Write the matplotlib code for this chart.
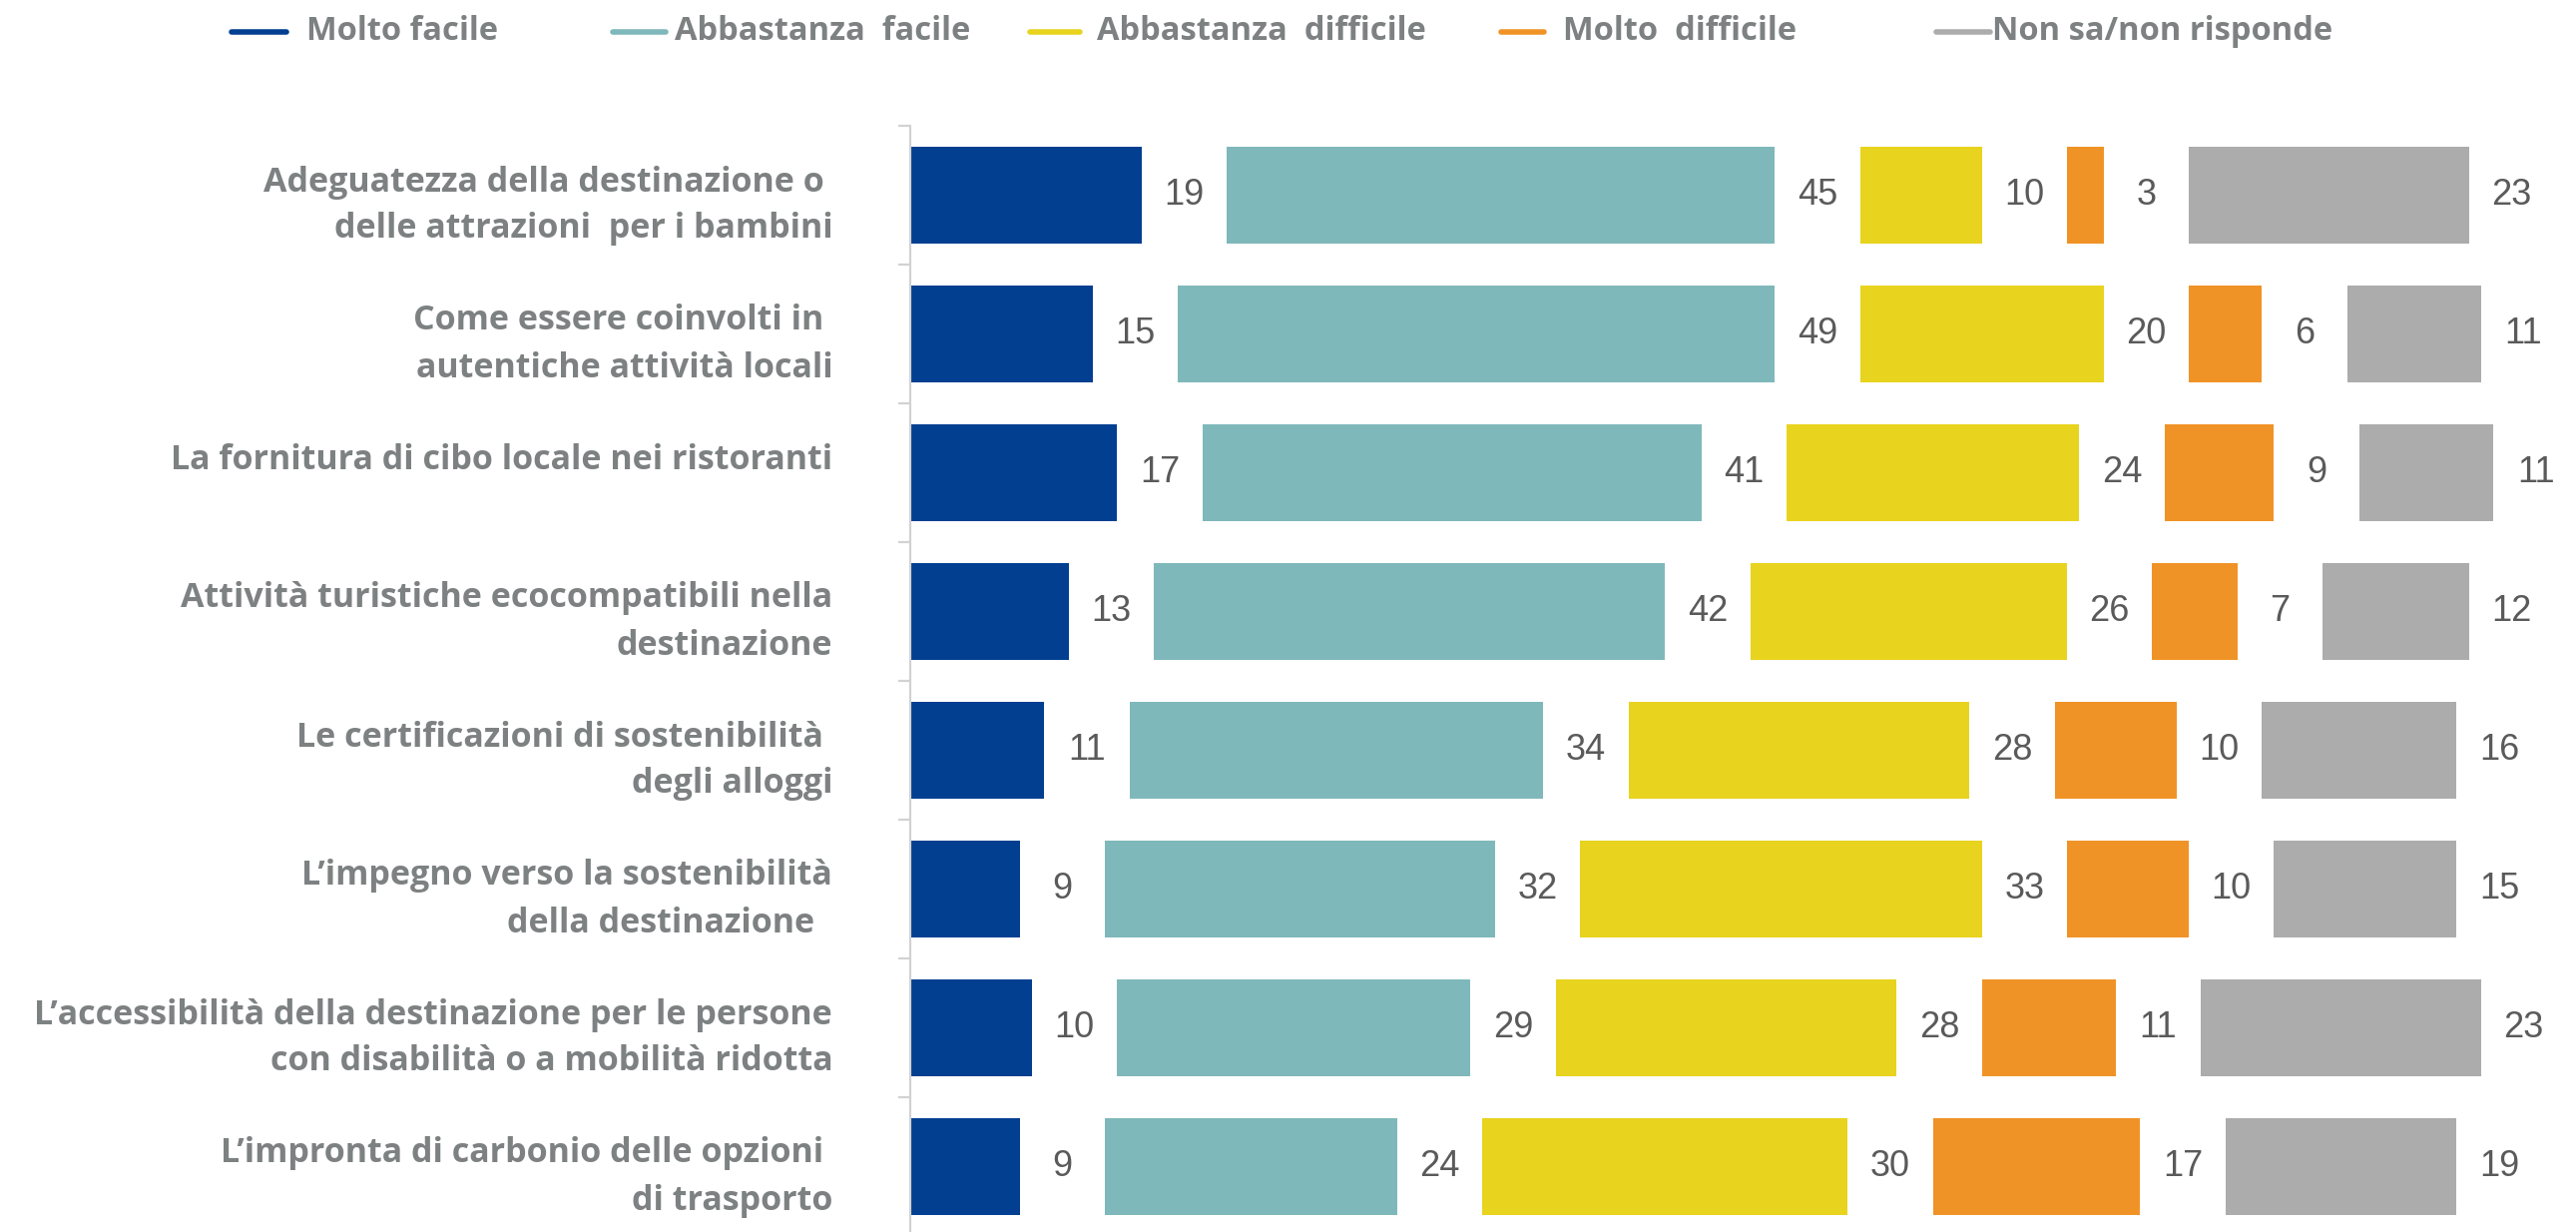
import matplotlib
matplotlib.use("Agg")
import matplotlib.pyplot as plt
from matplotlib.lines import Line2D
import numpy as np

# Survey answers per topic (percentages)
topics = [
    "Adeguatezza della destinazione o \ndelle attrazioni  per i bambini",
    "Come essere coinvolti in \nautentiche attività locali",
    "La fornitura di cibo locale nei ristoranti\n ",
    "Attività turistiche ecocompatibili nella\ndestinazione",
    "Le certificazioni di sostenibilità \ndegli alloggi",
    "L’impegno verso la sostenibilità\ndella destinazione  ",
    "L’accessibilità della destinazione per le persone\ncon disabilità o a mobilità ridotta",
    "L’impronta di carbonio delle opzioni \ndi trasporto",
]
molto_facile = [19, 15, 17, 13, 11, 9, 10, 9]
abbastanza_facile = [45, 49, 41, 42, 34, 32, 29, 24]
abbastanza_difficile = [10, 20, 24, 26, 28, 33, 28, 30]
molto_difficile = [3, 6, 9, 7, 10, 10, 11, 17]
non_sa = [23, 11, 11, 12, 16, 15, 23, 19]

series_names = ["Molto facile", "Abbastanza  facile", "Abbastanza  difficile",
                "Molto  difficile", "Non sa/non risponde"]
colors = ["#023f91", "#7fb8ba", "#e8d31e", "#f09327", "#acacac"]

label_font = "Open Sans"
label_color = "#7d8182"
gap = 7.0  # space left after each segment for its value

fig = plt.figure(figsize=(25.81, 12.34), dpi=100)
fig.patch.set_facecolor("white")

W, H = 2581, 1234
ax = fig.add_axes([912 / W, (H - 1238) / H, (W - 912) / W, 1112 / H])

y = np.arange(len(topics))
data = [molto_facile, abbastanza_facile, abbastanza_difficile, molto_difficile, non_sa]

left = np.zeros(len(topics))
for k, vals in enumerate(data):
    vals = np.array(vals, dtype=float)
    ax.barh(y, vals, left=left, height=0.705, color=colors[k], edgecolor="none")
    for i, v in enumerate(vals):
        ax.text(left[i] + v + gap / 2, y[i], f"{int(v)}", ha="center", va="center",
                fontsize=26, color="#5a5a5a", family="Liberation Sans")
    left = left + vals + gap

ax.set_xlim(0, (W - 912) / 12.2)
ax.set_ylim(len(topics) - 0.5, -0.5)

for s in ["top", "right", "bottom"]:
    ax.spines[s].set_visible(False)
ax.spines["left"].set_color("#d2d2d2")
ax.spines["left"].set_linewidth(1.6)
ax.set_xticks([])

ax.set_yticks(y)
ax.set_yticklabels(topics, fontsize=24.5, fontweight="bold", color=label_color,
                   family=label_font, linespacing=1.5)
ax.tick_params(axis="y", which="major", length=0, pad=56)
ax.set_yticks(np.arange(-0.5, len(topics), 1.0), minor=True)
ax.tick_params(axis="y", which="minor", length=9, width=1.6, color="#d2d2d2")

# legend drawn across the top
legend_items = [(232, 287, 307), (614, 667, 676), (1032, 1082, 1099),
                (1504, 1547, 1566), (1940, 1994, 1996)]
ly = 1 - 32 / H
for (x0, x1, xt), name, c in zip(legend_items, series_names, colors):
    fig.add_artist(Line2D([x0 / W, x1 / W], [ly, ly], color=c, lw=4,
                          solid_capstyle="round", transform=fig.transFigure))
    fig.text(xt / W, ly, name, ha="left", va="center", fontsize=23.5,
             fontweight="bold", color=label_color, family=label_font)

fig.savefig("out.png", dpi=100, facecolor="white")
